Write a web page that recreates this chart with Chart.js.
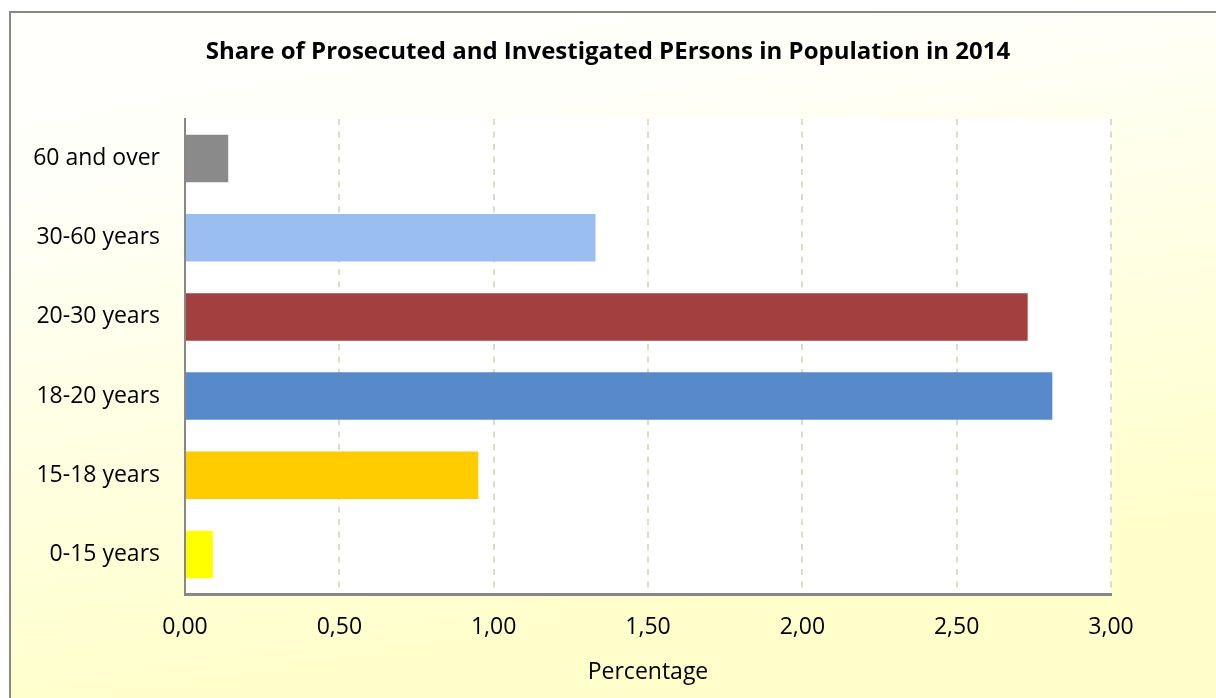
<!DOCTYPE html>
<html>
<head>
<meta charset="utf-8">
<script src="https://cdn.jsdelivr.net/npm/chart.js@4.4.1/dist/chart.umd.min.js"></script>
<style>
  html, body { margin: 0; padding: 0; background: #ffffff; overflow: hidden; }
  #wrap { width: 1216px; height: 698px; position: relative; }
</style>
</head>
<body>
<div id="wrap"><canvas id="c" width="1216" height="698"></canvas></div>
<script>
const chartTitle = 'Share of Prosecuted and Investigated PErsons in Population in 2014';
const categories = ['60 and over', '30-60 years', '20-30 years', '18-20 years', '15-18 years', '0-15 years'];
const shares = [0.14, 1.33, 2.73, 2.81, 0.95, 0.09];
const barColors = ['#8A8A8A', '#9BBEF0', '#A23F3F', '#578ACA', '#FFCC00', '#FFFF00'];
const xTicks = [0, 0.5, 1, 1.5, 2, 2.5, 3];
const xAxisTitle = 'Percentage';

const FONT = '"Open Sans", "Noto Sans", sans-serif';

const bgPlugin = {
  id: 'bgPlugin',
  beforeDraw(chart) {
    const ctx = chart.ctx;
    const W = chart.width, H = chart.height;
    ctx.save();
    const g = ctx.createLinearGradient(0, 0, 120, H);
    g.addColorStop(0, '#FFFFFD');
    g.addColorStop(0.25, '#FFFFFA');
    g.addColorStop(1, '#FFFFCC');
    ctx.fillStyle = g;
    ctx.fillRect(10, 12, W - 10, H - 12);
    ctx.strokeStyle = '#878787';
    ctx.lineWidth = 2;
    ctx.beginPath();
    ctx.moveTo(10, H);
    ctx.lineTo(10, 12);
    ctx.lineTo(W, 12);
    ctx.stroke();
    const a = chart.chartArea;
    ctx.fillStyle = '#FFFFFF';
    ctx.fillRect(a.left, a.top, a.right - a.left, a.bottom - a.top);
    ctx.restore();
  },
  afterDraw(chart) {
    const ctx = chart.ctx;
    ctx.save();
    ctx.fillStyle = '#000000';
    ctx.font = 'bold 24px ' + FONT;
    ctx.textAlign = 'center';
    ctx.textBaseline = 'middle';
    ctx.fillText(chartTitle, chart.width / 2, 52);
    ctx.restore();
  }
};

new Chart(document.getElementById('c'), {
  type: 'bar',
  data: {
    labels: categories,
    datasets: [{
      data: shares,
      backgroundColor: barColors,
      borderWidth: 0,
      barPercentage: 0.6,
      categoryPercentage: 1.0
    }]
  },
  options: {
    indexAxis: 'y',
    responsive: false,
    animation: false,
    layout: { padding: { left: 0, right: 105, top: 119, bottom: 0 } },
    plugins: {
      legend: { display: false },
      tooltip: { enabled: false },
      title: { display: false }
    },
    scales: {
      x: {
        min: 0,
        max: 3,
        afterBuildTicks(scale) { scale.ticks = xTicks.map(v => ({ value: v })); },
        afterFit(scale) { scale.height = 104; },
        ticks: {
          color: '#000000',
          font: { family: FONT, size: 23 },
          padding: 20,
          callback: (v) => Number(v).toFixed(2).replace('.', ',')
        },
        grid: {
          display: true,
          drawTicks: false,
          lineWidth: 2,
          color: (ctx) => (ctx.tick && ctx.tick.value === 0) ? 'rgba(0,0,0,0)' : '#E0DBC7'
        },
        border: { display: true, color: '#878787', width: 3, dash: [6, 6.5] },
        title: {
          display: true,
          text: xAxisTitle,
          color: '#000000',
          font: { family: FONT, size: 23 },
          padding: { top: 0, bottom: 12 }
        }
      },
      y: {
        afterFit(scale) { scale.width = 185; },
        ticks: {
          color: '#000000',
          font: { family: FONT, size: 23 },
          padding: 25
        },
        grid: { display: false, drawTicks: false },
        border: { display: true, color: '#878787', width: 2 }
      }
    }
  },
  plugins: [bgPlugin]
});
</script>
</body>
</html>
